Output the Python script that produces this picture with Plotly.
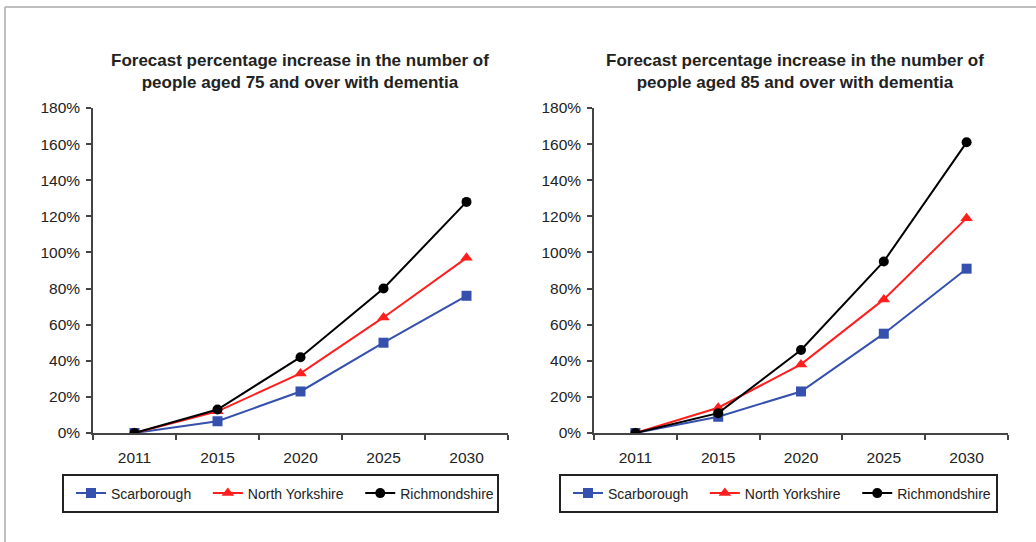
import plotly.graph_objects as go

# Forecast years (category axis)
years = ["2011", "2015", "2020", "2025", "2030"]

# Percentage increase, people aged 75 and over with dementia
scarborough_75 = [0.0, 0.065, 0.23, 0.50, 0.76]
north_yorks_75 = [0.0, 0.12, 0.33, 0.64, 0.97]
richmondshire_75 = [0.0, 0.13, 0.42, 0.80, 1.28]

# Percentage increase, people aged 85 and over with dementia
scarborough_85 = [0.0, 0.09, 0.23, 0.55, 0.91]
north_yorks_85 = [0.0, 0.14, 0.38, 0.74, 1.19]
richmondshire_85 = [0.0, 0.11, 0.46, 0.95, 1.61]

series_names = ["Scarborough", "North Yorkshire", "Richmondshire"]
series_colors = ["#3550ad", "#ff1f1f", "#000000"]
series_symbols = ["square", "triangle-up", "circle"]
series_sizes = [10, 11, 10]

titles = [
    "<b>Forecast percentage increase in the number of<br>people aged 75 and over with dementia</b>",
    "<b>Forecast percentage increase in the number of<br>people aged 85 and over with dementia</b>",
]

W, H = 1036, 542
FONT = "Liberation Sans, Arial, sans-serif"
NBSP = "\u00a0"


def px_x(x):
    return x / W


def px_y(y):
    return 1 - y / H


fig = go.Figure()

panels = [
    ("x", "y", "legend", [scarborough_75, north_yorks_75, richmondshire_75]),
    ("x2", "y2", "legend2", [scarborough_85, north_yorks_85, richmondshire_85]),
]
for xa, ya, lg, data in panels:
    for i, (name, vals, col, sym, sz) in enumerate(zip(
            series_names, data, series_colors, series_symbols, series_sizes)):
        # a little extra room after every entry except the last one
        label = name + (NBSP * 3 if i < len(series_names) - 1 else "")
        fig.add_trace(go.Scatter(
            x=years, y=vals, name=label, mode="lines+markers",
            xaxis=xa, yaxis=ya, legend=lg,
            line=dict(color=col, width=2),
            marker=dict(symbol=sym, size=sz, color=col),
        ))

axis_common = dict(
    showgrid=False, zeroline=False, showline=True, automargin=False,
    linecolor="#444444", linewidth=1.5,
    ticks="outside", ticklen=5, tickcolor="#444444", tickwidth=1.5,
    tickfont=dict(family=FONT, size=15.5, color="#222222"),
)

x_common = dict(axis_common, type="category", range=[-0.5, 4.5],
                tickson="boundaries", ticklabelstandoff=10)
y_common = dict(axis_common, range=[0, 1.8], ticklabelstandoff=3,
                tickvals=[i / 10 for i in range(0, 19, 2)], tickformat=".0%")

legend_common = dict(
    orientation="h", xanchor="left", y=px_y(493.5), yanchor="middle",
    borderwidth=0, bgcolor="rgba(0,0,0,0)",
    font=dict(family=FONT, size=14, color="#222222"),
)

fig.update_layout(
    width=W, height=H,
    margin=dict(l=0, r=0, t=0, b=0, pad=0, autoexpand=False),
    paper_bgcolor="white", plot_bgcolor="white",
    xaxis=dict(x_common, domain=[px_x(93), px_x(508)], anchor="y"),
    yaxis=dict(y_common, domain=[px_y(433), px_y(108)], anchor="x"),
    xaxis2=dict(x_common, domain=[px_x(594), px_x(1008)], anchor="y2"),
    yaxis2=dict(y_common, domain=[px_y(433), px_y(108)], anchor="x2"),
    legend=dict(legend_common, x=px_x(71)),
    legend2=dict(legend_common, x=px_x(568)),
    showlegend=True,
)

# Legend frames
for x0, x1 in [(63, 498), (560, 997)]:
    fig.add_shape(type="rect", xref="paper", yref="paper",
                  x0=px_x(x0), x1=px_x(x1), y0=px_y(512), y1=px_y(475),
                  line=dict(color="#222222", width=2), layer="below")

# Chart titles
for cx, txt in zip([300, 795], titles):
    fig.add_annotation(
        text=txt, x=px_x(cx), y=px_y(71), xref="paper", yref="paper",
        xanchor="center", yanchor="middle", showarrow=False,
        font=dict(family=FONT, size=17, color="#222222"),
    )

# Outer frame (left and top edges)
fig.add_shape(type="line", xref="paper", yref="paper",
              x0=px_x(5), x1=px_x(5), y0=0, y1=px_y(7),
              line=dict(color="#aaaaaa", width=1.5))
fig.add_shape(type="line", xref="paper", yref="paper",
              x0=px_x(5), x1=1, y0=px_y(7), y1=px_y(7),
              line=dict(color="#aaaaaa", width=1.5))

fig.write_html("out.html")
